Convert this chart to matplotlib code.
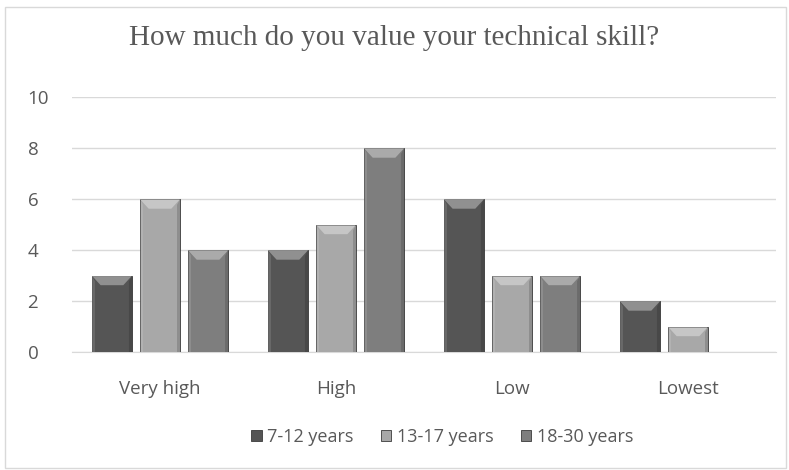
import matplotlib
matplotlib.use("Agg")
import matplotlib.pyplot as plt
from matplotlib.patches import Polygon, Rectangle
import numpy as np

categories = ["Very high", "High", "Low", "Lowest"]
series_names = ["7-12 years", "13-17 years", "18-30 years"]
vals_7_12 = [3, 4, 6, 2]
vals_13_17 = [6, 5, 3, 1]
vals_18_30 = [4, 8, 3, 0]
colors = ["#555555", "#a8a8a8", "#7e7e7e"]
y_ticks = [0, 2, 4, 6, 8, 10]

fig = plt.figure(figsize=(7.89, 4.70), dpi=100)
ax = fig.add_axes([72/789, 1-352/470, 704/789, 255/470])

# chart border
fig.add_artist(Rectangle((5/789, 2/470), 781/789, 461/470, transform=fig.transFigure,
                         fill=False, edgecolor="#d9d9d9", linewidth=1))

series = [vals_7_12, vals_13_17, vals_18_30]
x = np.arange(len(categories))
w = 0.23
step = 0.273
handles = []
for i, (vals, c) in enumerate(zip(series, colors)):
    pos = x + (i - 1) * step
    bars = ax.bar(pos, vals, width=w, color=c, edgecolor="#3a3a3a", linewidth=0.6, zorder=3,
                  label=series_names[i])
    handles.append(bars)
    for b in bars:
        h = b.get_height()
        if h <= 0:
            continue
        x0, bw = b.get_x(), b.get_width()
        bev = 0.38
        tri = Polygon([(x0, h), (x0 + bw, h), (x0 + bw * 0.78, h - bev), (x0 + bw * 0.22, h - bev)],
                      closed=True, facecolor="white", alpha=0.35, edgecolor="none", zorder=4)
        ax.add_patch(tri)
        left = Polygon([(x0, h), (x0 + bw * 0.08, h - bev * 0.6), (x0 + bw * 0.08, 0), (x0, 0)],
                       closed=True, facecolor="white", alpha=0.12, edgecolor="none", zorder=4)
        right = Polygon([(x0 + bw, h), (x0 + bw * 0.92, h - bev * 0.6), (x0 + bw * 0.92, 0), (x0 + bw, 0)],
                        closed=True, facecolor="black", alpha=0.15, edgecolor="none", zorder=4)
        ax.add_patch(left)
        ax.add_patch(right)

ax.set_xlim(-0.5, len(categories) - 0.5)
ax.set_ylim(0, 10)
ax.set_yticks(y_ticks)
ax.set_xticks(x)
ax.set_xticklabels(categories)
ax.grid(axis="y", color="#d9d9d9", linewidth=1, zorder=0)
for s in ["top", "right", "left"]:
    ax.spines[s].set_visible(False)
ax.spines["bottom"].set_color("#d9d9d9")
ax.tick_params(axis="both", length=0, labelsize=13.5, colors="#595959")
ax.tick_params(axis="x", pad=20)
ax.tick_params(axis="y", pad=32)
for lab in ax.get_xticklabels() + ax.get_yticklabels():
    lab.set_fontfamily("Open Sans")
for lab in ax.get_yticklabels():
    lab.set_horizontalalignment("left")

fig.text(0.5, 1 - 38/470, "How much do you value your technical skill?", ha="center", va="center",
         fontsize=21, family="Liberation Serif", color="#595959")

leg = fig.legend(handles=handles, labels=series_names, loc="center", bbox_to_anchor=(442/789, 1 - 437/470),
                 ncol=3, frameon=False, handlelength=0.6, handleheight=0.6, handletextpad=0.3,
                 columnspacing=1.5, prop={"family": "Open Sans", "size": 13})
for t in leg.get_texts():
    t.set_color("#595959")

fig.savefig("out.png", dpi=100)
